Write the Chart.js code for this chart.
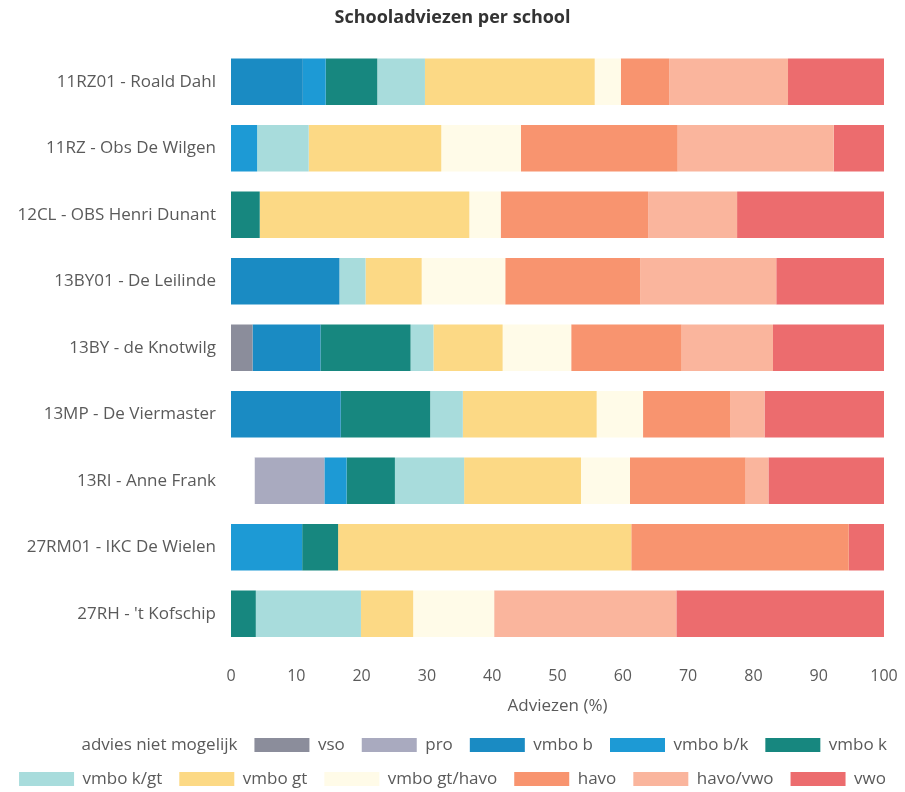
<!DOCTYPE html>
<html>
<head>
<meta charset="utf-8">
<script src="https://cdn.jsdelivr.net/npm/chart.js@4"></script>
<style>
html,body{margin:0;padding:0;background:#fff;}
#wrap{width:905px;height:792px;}
</style>
</head>
<body>
<div id="wrap"><canvas id="c"></canvas></div>
<script>
const schools = [
  "11RZ01 - Roald Dahl",
  "11RZ - Obs De Wilgen",
  "12CL - OBS Henri Dunant",
  "13BY01 - De Leilinde",
  "13BY - de Knotwilg",
  "13MP - De Viermaster",
  "13RI - Anne Frank",
  "27RM01 - IKC De Wielen",
  "27RH - 't Kofschip"
];
const seriesNames = ["advies niet mogelijk","vso","pro","vmbo b","vmbo b/k","vmbo k","vmbo k/gt","vmbo gt","vmbo gt/havo","havo","havo/vwo","vwo"];
const adviesNietMogelijk = [0,0,0,0,0,0,3.6,0,0];
const vso        = [0,0,0,0,3.3,0,0,0,0];
const pro        = [0,0,0,0,0,0,10.7,0,0];
const vmboB      = [11.0,0,0,16.6,10.4,16.8,0,0,0];
const vmboBK     = [3.5,4.0,0,0,0,0,3.4,10.9,0];
const vmboK      = [7.9,0,4.4,0,13.8,13.7,7.4,5.5,3.8];
const vmboKGt    = [7.3,7.9,0,4.0,3.5,5.0,10.6,0,16.1];
const vmboGt     = [26.0,20.3,32.1,8.6,10.6,20.5,17.9,44.9,8.0];
const vmboGtHavo = [4.0,12.2,4.8,12.8,10.5,7.1,7.5,0,12.4];
const havo       = [7.4,24.0,22.6,20.7,16.9,13.4,17.7,33.3,0];
const havoVwo    = [18.2,23.9,13.6,20.8,14.0,5.2,3.5,0,27.9];
const vwo        = [14.7,7.7,22.5,16.5,17.0,18.3,17.7,5.4,31.8];
const xTicks = [0,10,20,30,40,50,60,70,80,90,100];

const seriesValues = [adviesNietMogelijk,vso,pro,vmboB,vmboBK,vmboK,vmboKGt,vmboGt,vmboGtHavo,havo,havoVwo,vwo];
const colors = ["#ffffff","#8b8d9b","#a9aabf","#1a8bc3","#1d9ad5","#17877f","#a8dcdc","#fcd985","#fffbe8","#f8946f","#fab59d","#ec6c6e"];

const FONT = "'Open Sans', 'Noto Sans', sans-serif";
const TXT = "#5a5a5a";

new Chart(document.getElementById('c'), {
  type: 'bar',
  data: {
    labels: schools,
    datasets: seriesNames.map((n,i)=>({
      label: n,
      data: seriesValues[i],
      backgroundColor: colors[i],
      borderWidth: 0,
      barPercentage: 0.7,
      categoryPercentage: 1.0
    }))
  },
  options: {
    indexAxis: 'y',
    responsive: true,
    maintainAspectRatio: false,
    animation: false,
    layout: { padding: { left: 0, right: 0, top: 0, bottom: -5.5 } },
    plugins: {
      title: {
        display: true,
        text: 'Schooladviezen per school',
        color: '#333',
        font: { family: FONT, size: 18, weight: 'bold' },
        padding: { top: 7, bottom: 20 }
      },
      legend: {
        position: 'bottom',
        labels: {
          boxWidth: 55,
          boxHeight: 14,
          padding: 17,
          color: TXT,
          font: { family: FONT, size: 17 }
        }
      },
      tooltip: { enabled: false }
    },
    scales: {
      x: {
        stacked: true,
        min: 0, max: 100,
        afterBuildTicks: (s)=>{ s.ticks = xTicks.map(v=>({value:v})); },
        afterFit: (s)=>{ s.height = 72.5; s.paddingLeft = 0; s.paddingRight = 21; },
        grid: { display: false, drawTicks: false },
        border: { display: false },
        ticks: { color: TXT, font: { family: FONT, size: 16 }, padding: 20, maxRotation: 0 },
        title: { display: true, text: 'Adviezen (%)', color: TXT, font: { family: FONT, size: 17 }, padding: { top: 4, bottom: 3 } }
      },
      y: {
        stacked: true,
        afterFit: (s)=>{ s.width = 231; },
        grid: { display: false, drawTicks: false },
        border: { display: false },
        ticks: { color: TXT, font: { family: FONT, size: 17 }, padding: 15 }
      }
    }
  }
});
</script>
</body>
</html>
